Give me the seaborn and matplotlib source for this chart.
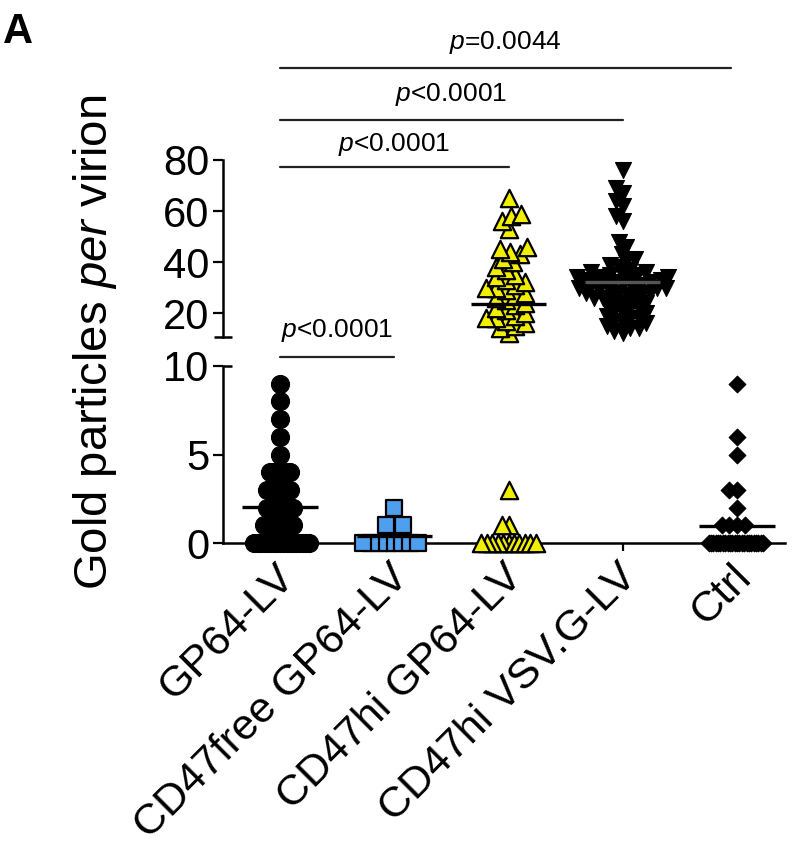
import numpy as np
import pandas as pd
import matplotlib
matplotlib.use("Agg")
import matplotlib.pyplot as plt
import matplotlib.transforms as mtransforms
import seaborn as sns

# ---------------- data ----------------
groups = ["GP64-LV", "CD47free GP64-LV", "CD47hi GP64-LV", "CD47hi VSV.G-LV", "Ctrl"]

gp64_lv = [0, 0, 0, 0, 0, 0, 0, 0, 0, 0, 0, 0, 0, 0, 0, 0, 0, 0,
           1, 1, 1, 1, 1, 1, 1, 1, 1, 1,
           2, 2, 2, 2, 2, 2, 2, 2, 2,
           3, 3, 3, 3, 3, 3, 3, 3,
           4, 4, 4, 4, 4, 4, 4,
           5, 6, 7, 8, 9]
cd47free_gp64 = [0, 0, 0, 0, 0, 0, 0, 0, 1, 1, 1, 2]
cd47hi_gp64 = [0, 0, 0, 0, 0, 0, 0, 0, 0, 0, 0, 1, 1, 3,
               12, 14, 15, 16, 17, 18, 18, 19, 20, 21, 22, 23, 24, 25,
               26, 27, 28, 29, 30, 30, 31, 32, 33, 34, 35, 37, 38, 40,
               41, 43, 44, 45, 46, 53, 56, 58, 59, 65]
cd47hi_vsvg = [14, 15, 16, 16, 17, 18, 18, 19, 20, 20, 21, 22, 22, 23, 24, 24,
               25, 25, 26, 26, 27, 27, 28, 28, 28, 29, 29, 29, 30, 30, 30,
               31, 31, 31, 32, 32, 32, 33, 33, 33, 34, 34, 34, 35, 35, 35,
               36, 36, 37, 38, 39, 40, 41, 43, 46, 48, 56, 58, 62, 64, 67,
               69, 76, 12, 13, 14]
ctrl = [0, 0, 0, 0, 0, 0, 0, 0, 0, 0, 0, 0, 0, 0, 0, 0, 0, 0, 0, 0, 0, 0, 0, 0,
        1, 1, 1, 1, 2, 3, 3, 5, 6, 9]

series = [gp64_lv, cd47free_gp64, cd47hi_gp64, cd47hi_vsvg, ctrl]

# significance annotations: (group a, group b, text)
comparisons = [(0, 1, "<0.0001"), (0, 2, "<0.0001"), (0, 3, "<0.0001"), (0, 4, "=0.0044")]

# ---------------- style ----------------
sns.set_theme(style="ticks")
plt.rcParams["font.family"] = ["Liberation Sans", "DejaVu Sans"]
plt.rcParams["mathtext.fontset"] = "custom"
plt.rcParams["mathtext.rm"] = "Liberation Sans"
plt.rcParams["mathtext.it"] = "Liberation Sans:italic"
plt.rcParams["mathtext.bf"] = "Liberation Sans:bold"
for k in ("text.color", "axes.labelcolor", "xtick.color", "ytick.color",
          "axes.edgecolor"):
    plt.rcParams[k] = "black"

styles = [
    dict(marker="o", face="black", size=13.0, lw=0.8, d_bot=3.1, d_top=10),
    dict(marker="s", face="#4f9fef", size=11.0, lw=1.6, d_bot=8.3, d_top=10),
    dict(marker="^", face="#f2ee00", size=12.5, lw=1.6, d_bot=6.1, d_top=10),
    dict(marker="v", face="black", size=11.5, lw=0.8, d_bot=6, d_top=8.6),
    dict(marker="D", face="black", size=8.5, lw=0.8, d_bot=7.3, d_top=10),
]
CAP_PX = 52
SPLIT = 10.6

fig = plt.figure(figsize=(8, 8.47), dpi=100)
ax_top = fig.add_axes([0.27875, 0.6021, 0.7025, 0.2090])
ax_bot = fig.add_axes([0.27875, 0.3589, 0.7025, 0.2090])
for a in (ax_top, ax_bot):
    a.set_facecolor("none")

swarm_colls = []


def swarm(ax, values, gi, d_px):
    sub = pd.DataFrame({"group": [groups[gi]] * len(values), "value": values})
    st = styles[gi]
    n0 = len(ax.collections)
    sns.swarmplot(data=sub, x="group", y="value", order=groups, ax=ax,
                  marker=st["marker"], color=st["face"], size=st["size"],
                  linewidth=0, zorder=3, clip_on=False)
    new = [c for c in ax.collections[n0:] if len(c.get_offsets())]
    for coll in new:
        yv = pd.Series(np.asarray(coll.get_offsets())[:, 1])
        counts = yv.map(yv.value_counts()).to_numpy()
        d = np.full(len(yv), float(d_px))
        d = np.minimum(d, CAP_PX / np.maximum(counts - 1, 1))
        coll.set_sizes((d * 72 / fig.dpi) ** 2)
        coll.set_linewidth(0)
        swarm_colls.append((coll, st))


for gi, vals in enumerate(series):
    vals = np.asarray(vals, float)
    low = vals[vals <= 10]
    high = vals[vals > 10]
    if len(low):
        swarm(ax_bot, low, gi, styles[gi]["d_bot"])
    if len(high):
        swarm(ax_top, high, gi, styles[gi]["d_top"])

# axes limits / ticks
for a in (ax_top, ax_bot):
    a.set_xlim(-0.5, 4.42)
    a.set_xlabel("")
    a.set_ylabel("")
    a.spines["top"].set_visible(False)
    a.spines["right"].set_visible(False)
    a.spines["left"].set_linewidth(1.8)
    a.tick_params(axis="y", direction="out", length=7, width=1.6,
                  labelsize=30, pad=3, colors="black")

ax_top.set_ylim(SPLIT, 80)
ax_top.set_yticks([20, 40, 60, 80])
ax_top.spines["bottom"].set_visible(False)
ax_top.tick_params(axis="x", bottom=False, labelbottom=False)

ax_bot.set_ylim(0, 10)
ax_bot.set_yticks([0, 5, 10])
ax_bot.spines["bottom"].set_linewidth(1.8)
ax_bot.set_xticks(range(len(groups)))
ax_bot.set_xticklabels(groups, rotation=45, ha="right", va="top",
                       rotation_mode="anchor", fontsize=31)
ax_bot.tick_params(axis="x", direction="out", length=6, width=1.6, pad=1,
                   colors="black")
shift = mtransforms.ScaledTranslation(-0.06, -0.04, fig.dpi_scale_trans)
for lab in ax_bot.get_xticklabels():
    lab.set_transform(lab.get_transform() + shift)

# axis-break caps
cap = 9 / (0.7025 * 800)
ax_top.plot([-cap, cap], [0, 0], transform=ax_top.transAxes, color="black",
            lw=1.8, clip_on=False, solid_capstyle="butt")
ax_bot.plot([0, cap], [1, 1], transform=ax_bot.transAxes, color="black",
            lw=1.8, clip_on=False, solid_capstyle="butt")

# mean lines
for gi, vals in enumerate(series):
    m = float(np.mean(vals))
    target = ax_top if m > SPLIT else ax_bot
    col = "#555555" if gi == 3 else "black"
    target.hlines(m, gi - 0.33, gi + 0.33, color=col, lw=2.4, zorder=6,
                  clip_on=False)

# significance brackets
line_y = {1: (ax_bot, 10.5, 12.0), 2: (ax_top, 77.3, 85.9),
          3: (ax_top, 95.7, 105.5), 4: (ax_top, 116.0, 125.9)}
for a_i, b_i, txt in comparisons:
    target, ly, ty = line_y[b_i]
    xe = b_i if b_i < 4 else 3.95
    target.plot([a_i, xe], [ly, ly], color="#222222", lw=1.6, clip_on=False)
    target.text((a_i + xe) / 2, ty, r"$\it{p}$" + txt, ha="center", va="center",
                fontsize=19, clip_on=False)

# y label and panel letter
fig.text(0.119, 0.596, r"Gold particles $\it{per}$ virion", rotation=90,
         ha="center", va="center", fontsize=34)
fig.text(0.004, 1 - 43 / 847, "A", fontsize=30, fontweight="bold",
         ha="left", va="baseline")

# compute swarm layout with small spacing, then freeze and enlarge markers
fig.canvas.draw()
for coll, st in swarm_colls:
    if "draw" in coll.__dict__:
        del coll.draw
    coll.set_sizes([st["size"] ** 2])
    coll.set_facecolor(st["face"])
    coll.set_edgecolor("black")
    coll.set_linewidth(st["lw"])

fig.savefig("out.png", dpi=100)
